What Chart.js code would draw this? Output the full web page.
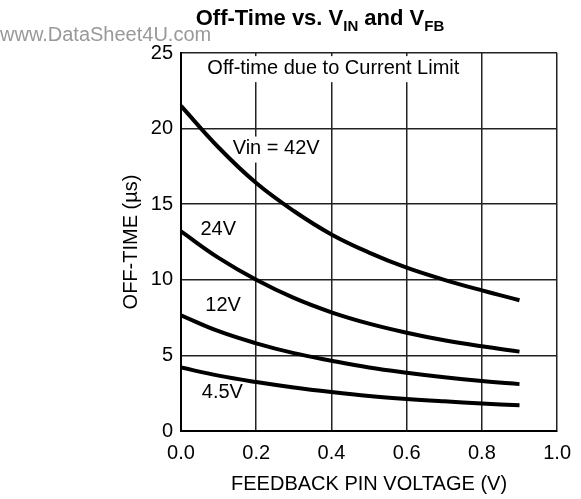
<!DOCTYPE html>
<html>
<head>
<meta charset="utf-8">
<script src="https://cdn.jsdelivr.net/npm/chart.js@4.4.1/dist/chart.umd.min.js"></script>
<style>
  html, body { margin: 0; padding: 0; background: #fff; }
  #wrap { width: 581px; height: 499px; }
</style>
</head>
<body>
<div id="wrap"><canvas id="offTimeChart" width="581" height="499"></canvas></div>
<script>
// feedback pin voltage (V)
const feedbackV = [0, 0.1, 0.2, 0.3, 0.4, 0.5, 0.6, 0.7, 0.8, 0.9];
// off-time (us) for each input voltage
const vin42 = [21.5, 18.75, 16.4, 14.55, 13.0, 11.8, 10.8, 10.0, 9.3, 8.65];
const vin24 = [13.2, 11.45, 10.0, 8.8, 7.85, 7.1, 6.5, 6.0, 5.6, 5.25];
const vin12 = [7.65, 6.6, 5.8, 5.15, 4.65, 4.2, 3.85, 3.55, 3.3, 3.1];
const vin45 = [4.2, 3.66, 3.24, 2.88, 2.58, 2.32, 2.12, 1.96, 1.82, 1.7];
const seriesNames = ['Vin = 42V', '24V', '12V', '4.5V'];

const FONT = '"Liberation Sans", Arial, Helvetica, sans-serif';

function toPoints(values) {
  return feedbackV.map((v, i) => ({ x: v, y: values[i] }));
}

// text labels drawn inside the plot (data coordinates)
const plotLabels = [
  { text: 'Off-time due to Current Limit', x: 0.405, y: 24.0, box: true },
  { text: seriesNames[0], x: 0.253, y: 18.68, box: true },
  { text: seriesNames[1], x: 0.099, y: 13.3, box: false },
  { text: seriesNames[2], x: 0.112, y: 8.3, box: false },
  { text: seriesNames[3], x: 0.11, y: 2.55, box: false }
];

const figText = {
  id: 'figText',
  beforeDatasetsDraw(chart) {
    const ctx = chart.ctx;
    const xs = chart.scales.x, ys = chart.scales.y;
    ctx.save();
    ctx.font = '20px ' + FONT;
    ctx.textAlign = 'center';
    ctx.textBaseline = 'middle';
    plotLabels.forEach(l => {
      const px = xs.getPixelForValue(l.x);
      const py = ys.getPixelForValue(l.y);
      if (l.box) {
        const w = ctx.measureText(l.text).width;
        ctx.fillStyle = '#fff';
        ctx.fillRect(px - w / 2 - 5, py - 12, w + 10, 26);
      }
      ctx.fillStyle = '#000';
      ctx.fillText(l.text, px, py);
    });
    ctx.restore();
  },
  afterDraw(chart) {
    const ctx = chart.ctx;
    ctx.save();
    // watermark
    ctx.font = '20px ' + FONT;
    ctx.fillStyle = '#999';
    ctx.textAlign = 'left';
    ctx.textBaseline = 'alphabetic';
    ctx.fillText('www.DataSheet4U.com', 0, 41);

    // title with subscripts
    const parts = [
      { t: 'Off-Time vs. V', sub: false },
      { t: 'IN', sub: true },
      { t: ' and V', sub: false },
      { t: 'FB', sub: true }
    ];
    const mainFont = 'bold 22px ' + FONT;
    const subFont = 'bold 15px ' + FONT;
    let total = 0;
    parts.forEach(p => {
      ctx.font = p.sub ? subFont : mainFont;
      p.w = ctx.measureText(p.t).width;
      total += p.w;
    });
    let x = 320 - total / 2;
    ctx.fillStyle = '#000';
    parts.forEach(p => {
      ctx.font = p.sub ? subFont : mainFont;
      ctx.fillText(p.t, x, p.sub ? 31 : 25);
      x += p.w;
    });
    ctx.restore();
  }
};

const lineStyle = {
  borderColor: '#000',
  backgroundColor: '#000',
  borderWidth: 4,
  pointRadius: 0,
  fill: false,
  tension: 0.4
};

const ctx = document.getElementById('offTimeChart').getContext('2d');
new Chart(ctx, {
  type: 'line',
  data: {
    datasets: [
      { label: seriesNames[0], data: toPoints(vin42), ...lineStyle },
      { label: seriesNames[1], data: toPoints(vin24), ...lineStyle },
      { label: seriesNames[2], data: toPoints(vin12), ...lineStyle },
      { label: seriesNames[3], data: toPoints(vin45), ...lineStyle }
    ]
  },
  options: {
    responsive: false,
    animation: false,
    devicePixelRatio: 1,
    layout: { padding: { top: 53, right: 17, left: 0, bottom: 0 } },
    plugins: {
      legend: { display: false },
      tooltip: { enabled: false },
      title: { display: false }
    },
    scales: {
      x: {
        type: 'linear',
        min: 0,
        max: 1,
        ticks: {
          stepSize: 0.2,
          padding: 10,
          color: '#000',
          font: { family: FONT, size: 20 },
          callback: v => v.toFixed(1)
        },
        grid: { color: '#222', lineWidth: 1.5, drawTicks: false },
        border: { display: true, color: '#000', width: 2 },
        title: {
          display: true,
          text: 'FEEDBACK PIN VOLTAGE (V)',
          color: '#000',
          font: { family: FONT, size: 20 },
          padding: { top: 0, bottom: 3 }
        },
        afterFit: s => { s.height = 68; }
      },
      y: {
        min: 0,
        max: 25,
        ticks: {
          stepSize: 5,
          padding: 8,
          color: '#000',
          font: { family: FONT, size: 20 }
        },
        grid: { color: '#222', lineWidth: 1.5, drawTicks: false },
        border: { display: true, color: '#000', width: 2 },
        title: {
          display: true,
          text: 'OFF-TIME (µs)',
          color: '#000',
          font: { family: FONT, size: 20 },
          padding: { top: 119, bottom: 0 }
        },
        afterFit: s => { s.width = 181; }
      }
    }
  },
  plugins: [figText]
});
</script>
</body>
</html>
